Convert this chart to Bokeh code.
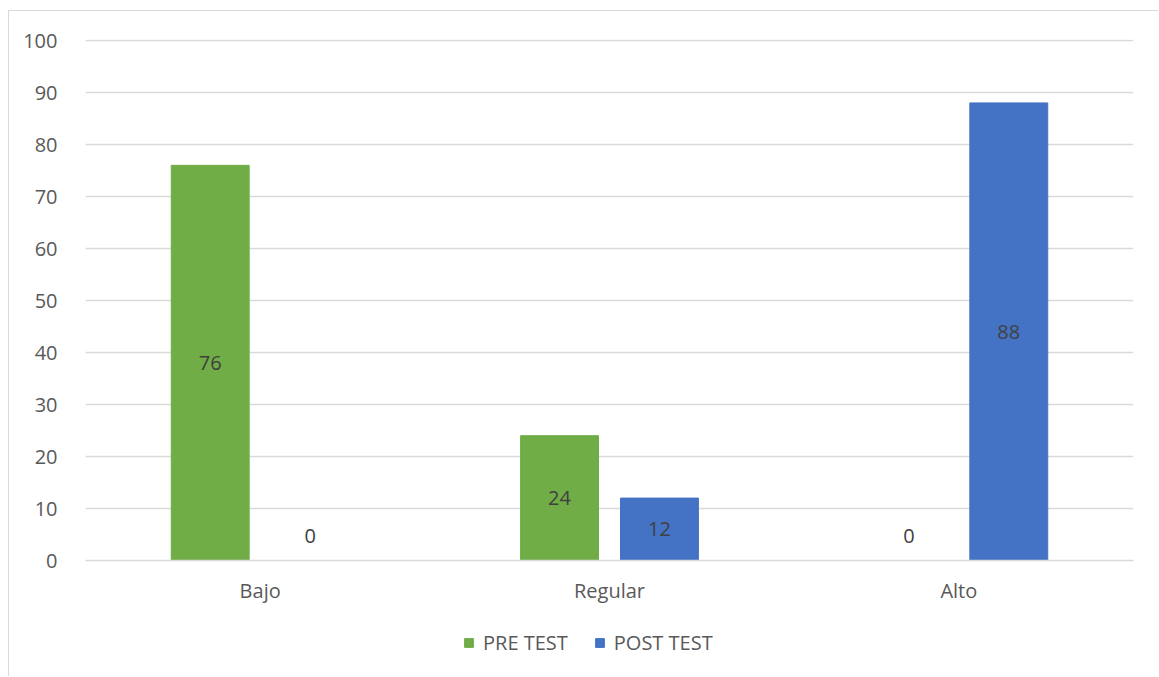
from bokeh.plotting import figure
from bokeh.models import ColumnDataSource, Legend, LegendItem, FactorRange, Range1d
from bokeh.layouts import column
from bokeh.transform import dodge
from bokeh.core.properties import value
from bokeh.embed import file_html
from bokeh.resources import INLINE

categories = ["Bajo", "Regular", "Alto"]
pre_test = [76, 24, 0]
post_test = [0, 12, 88]
series_names = ["PRE TEST", "POST TEST"]
y_ticks = [0, 10, 20, 30, 40, 50, 60, 70, 80, 90, 100]

GREEN = "#70AD47"
BLUE = "#4472C4"
FONT = "Open Sans"
FS = "20px"

src = ColumnDataSource(dict(
    cat=categories,
    pre=pre_test,
    post=post_test,
    pre_lbl=[str(v) for v in pre_test],
    post_lbl=[str(v) for v in post_test],
    pre_mid=[v / 2 for v in pre_test],
    post_mid=[v / 2 for v in post_test],
    pre_off=[-25 if v == 0 else 0 for v in pre_test],
    post_off=[-25 if v == 0 else 0 for v in post_test],
))

p = figure(x_range=FactorRange(*categories), y_range=(0, 100.2),
           width=1149, height=601, output_backend="svg", toolbar_location=None,
           min_border_left=76, min_border_right=25, min_border_top=28, min_border_bottom=52)
p.outline_line_color = None
p.x_range.range_padding = 0

r1 = p.vbar(x=dodge("cat", -0.143, range=p.x_range), top="pre", width=0.223, source=src,
            fill_color=GREEN, line_color=GREEN)
r2 = p.vbar(x=dodge("cat", 0.143, range=p.x_range), top="post", width=0.223, source=src,
            fill_color=BLUE, line_color=BLUE)

for xo, yf, lf, of in [(-0.143, "pre_mid", "pre_lbl", "pre_off"), (0.143, "post_mid", "post_lbl", "post_off")]:
    p.text(x=dodge("cat", xo, range=p.x_range), y=yf, text=lf, y_offset=of, source=src,
           text_align="center", text_baseline="middle", text_color="#404040",
           text_font=value(FONT), text_font_size=FS)

p.yaxis.ticker = y_ticks
p.yaxis.axis_line_color = None
p.yaxis.major_tick_line_color = None
p.yaxis.minor_tick_line_color = None
p.yaxis.major_label_text_color = "#595959"
p.yaxis.major_label_text_font = FONT
p.yaxis.major_label_text_font_size = FS
p.yaxis.major_label_standoff = 22

p.xaxis.axis_line_color = "#d9d9d9"
p.xaxis.axis_line_width = 1.5
p.xaxis.major_tick_line_color = None
p.xaxis.minor_tick_line_color = None
p.xaxis.major_label_text_color = "#595959"
p.xaxis.major_label_text_font = FONT
p.xaxis.major_label_text_font_size = FS
p.xaxis.major_label_standoff = 10

p.xgrid.grid_line_color = None
p.ygrid.grid_line_color = "#d9d9d9"
p.ygrid.grid_line_width = 1.5

# legend strip below the chart (its bars lie outside the visible range; only the legend shows)
p2 = figure(x_range=Range1d(0, 1), y_range=Range1d(1000, 1001), width=1149, height=64,
            output_backend="svg", toolbar_location=None,
            min_border_left=0, min_border_right=0, min_border_top=0, min_border_bottom=0)
p2.axis.visible = False
p2.grid.visible = False
p2.outline_line_color = None
l1 = p2.vbar(x="pre", top="pre", width=0.1, source=src, fill_color=GREEN, line_color=GREEN)
l2 = p2.vbar(x="post", top="post", width=0.1, source=src, fill_color=BLUE, line_color=BLUE)

legend = Legend(items=[LegendItem(label=series_names[0], renderers=[l1]),
                       LegendItem(label=series_names[1], renderers=[l2])],
                orientation="horizontal", location=(378, 20),
                label_text_font=FONT, label_text_font_size=FS, label_text_color="#595959",
                glyph_width=11, glyph_height=11, spacing=26, label_standoff=9,
                border_line_color=None, background_fill_alpha=0, margin=0, padding=0)
p2.add_layout(legend, "center")

layout = column(p, p2, spacing=0)
layout.styles = {"margin-left": "8px", "margin-top": "10px",
                 "border-left": "1px solid #d9d9d9", "border-top": "1px solid #d9d9d9"}

open("out.html", "w").write(file_html(layout, INLINE))
